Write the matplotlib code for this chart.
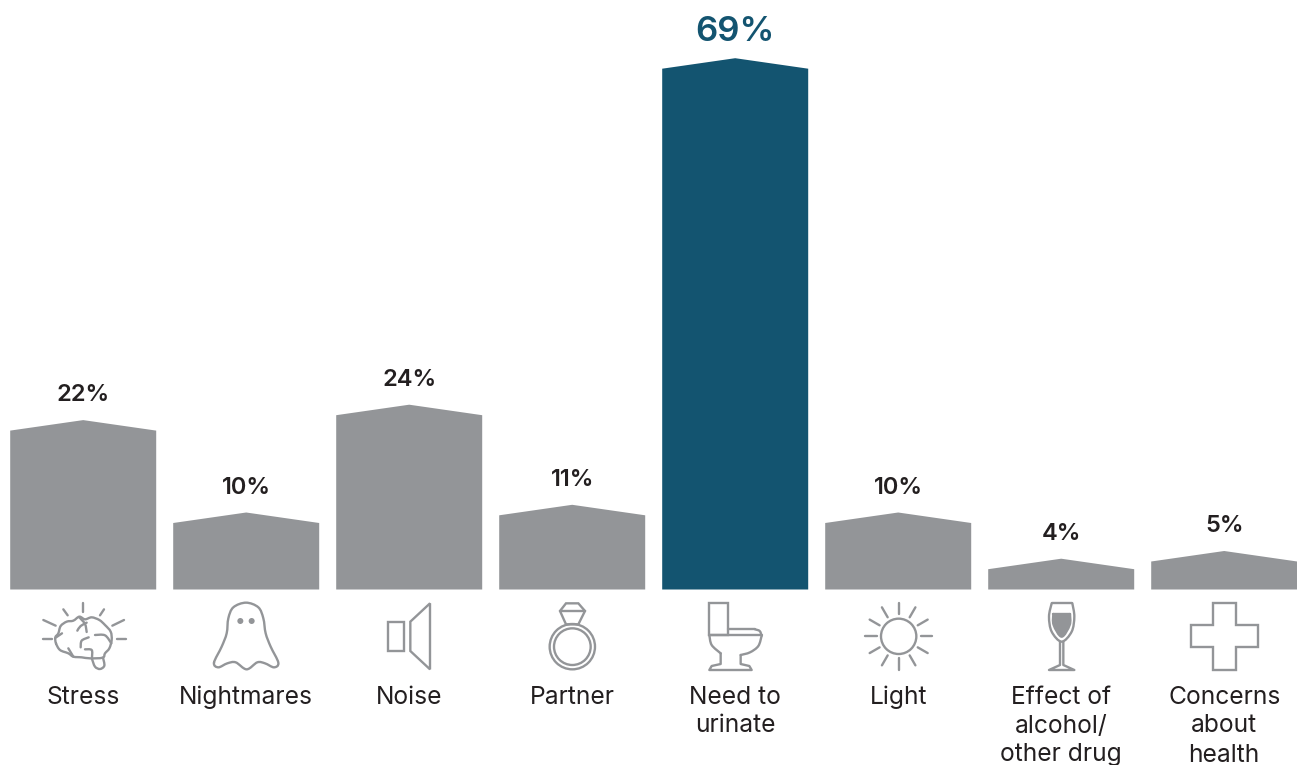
import numpy as np
import matplotlib
matplotlib.use("Agg")
import matplotlib.pyplot as plt
from matplotlib.path import Path
from matplotlib.patches import PathPatch, Polygon, Circle

plt.rcParams["font.family"] = ["Inter", "DejaVu Sans"]

categories = ["Stress", "Nightmares", "Noise", "Partner", "Need to\nurinate",
              "Light", "Effect of\nalcohol/\nother drug", "Concerns\nabout\nhealth"]
values = [22, 10, 24, 11, 69, 10, 4, 5]
highlight = "Need to\nurinate"

GREY = "#939598"
TEAL = "#135470"
INK = "#231f20"

W, H = 1297, 765
BASE_PX = 589.5
PX_PER_PCT = 7.7
STEP_PX = 163.0
FIRST_PX = 83.2
BAR_W = 146 / STEP_PX
ROOF = 10.5 / PX_PER_PCT

fig = plt.figure(figsize=(W / 100, H / 100), dpi=100, facecolor="white")

# Bars live on category / percent scales that span the whole canvas.
ax = fig.add_axes([0, 0, 1, 1])
ax.set_xlim(-FIRST_PX / STEP_PX, (W - FIRST_PX) / STEP_PX)
ax.set_ylim(-(H - BASE_PX) / PX_PER_PCT, BASE_PX / PX_PER_PCT)
ax.axis("off")

# Pixel-style overlay for the pictograms.
ic = fig.add_axes([0, 0, 1, 1], facecolor="none")
ic.set_xlim(0, W)
ic.set_ylim(H, 0)
ic.axis("off")

for i, (cat, val) in enumerate(zip(categories, values)):
    hot = cat == highlight
    col = TEAL if hot else GREY
    l, r = i - BAR_W / 2, i + BAR_W / 2
    ax.add_patch(Polygon([(l, 0), (l, val - ROOF), (i, val), (r, val - ROOF), (r, 0)],
                         closed=True, fc=col, ec="none"))
    ax.annotate(f"{val}%", (i, val), xytext=(0, 26.5 if hot else 25),
                textcoords="offset pixels", ha="center", va="center",
                color=TEAL if hot else INK, fontsize=25 if hot else 17,
                fontweight="semibold", annotation_clip=False)
    for j, line_text in enumerate(cat.split("\n")):
        ax.annotate(line_text, (i, 0), xytext=(0, -(107.5 + 29 * j)),
                    textcoords="offset pixels", ha="center", va="center",
                    color=INK, fontsize=17.7, fontweight="normal", annotation_clip=False)

LW = 1.7
STYLE = dict(color=GREY, lw=LW, solid_capstyle="round", solid_joinstyle="round")


def zoomed(pts, ox, oy):
    # Icon outlines are sketched on a 3x grid with a local origin.
    a = np.asarray(pts, float)
    return a[:, 0] / 3 + ox, a[:, 1] / 3 + oy


def line(pts, ox, oy):
    x, y = zoomed(pts, ox, oy)
    ic.plot(x, y, **STYLE)


def smooth(pts, ox, oy, closed=False, fc="none"):
    # Catmull-Rom spline through the sketched knots.
    x, y = zoomed(pts, ox, oy)
    p = np.column_stack([x, y])
    n = len(p)
    verts, codes = [p[0]], [Path.MOVETO]
    segs = n if closed else n - 1
    for k in range(segs):
        if closed:
            p0, p1, p2, p3 = p[(k - 1) % n], p[k], p[(k + 1) % n], p[(k + 2) % n]
        else:
            p0, p1, p2, p3 = p[max(k - 1, 0)], p[k], p[k + 1], p[min(k + 2, n - 1)]
        verts += [p1 + (p2 - p0) / 6, p2 - (p3 - p1) / 6, p2]
        codes += [Path.CURVE4] * 3
    ic.add_patch(PathPatch(Path(verts, codes), fc=fc, ec=GREY, lw=LW, joinstyle="round", capstyle="round"))


def poly(pts, ox, oy, fc="none"):
    x, y = zoomed(pts, ox, oy)
    ic.add_patch(Polygon(np.column_stack([x, y]), closed=True, fc=fc, ec=GREY, lw=LW, joinstyle="miter"))


# Stress: brain with rays
BX, BY = 40, 600
for a in [[(130, 8), (130, 35)], [(70, 28), (83, 46)], [(192, 28), (180, 46)],
          [(10, 60), (47, 77)], [(252, 60), (217, 77)],
          [(8, 118), (35, 118)], [(230, 118), (257, 118)]]:
    line(a, BX, BY)
smooth([(48, 130), (46, 112), (55, 100), (62, 78), (80, 65), (100, 62), (118, 50),
        (135, 58), (155, 52), (178, 60), (195, 75), (212, 95), (215, 120), (208, 145),
        (195, 160), (188, 173), (150, 175), (125, 172), (100, 170), (85, 160), (60, 150)],
       BX, BY, closed=True)
smooth([(156, 177), (165, 200), (180, 207), (193, 197), (189, 173)], BX, BY)
smooth([(140, 68), (122, 78), (112, 92)], BX, BY)
smooth([(118, 52), (135, 72), (140, 96)], BX, BY)
smooth([(122, 142), (125, 122), (146, 112)], BX, BY)
smooth([(214, 130), (195, 106), (165, 105)], BX, BY)
smooth([(85, 145), (100, 170)], BX, BY)
smooth([(47, 113), (66, 100)], BX, BY)
smooth([(156, 172), (155, 150), (135, 148)], BX, BY)

# Nightmares: ghost
smooth([(642, 218), (665, 170), (680, 130), (685, 85), (700, 52), (738, 38), (775, 52),
        (790, 85), (797, 130), (812, 170), (835, 218), (822, 232), (795, 220), (772, 217),
        (740, 238), (707, 217), (682, 220), (655, 232)], 0, 590, closed=True)
for ex in (721, 755):
    ic.add_patch(Circle((ex / 3, 590 + 93 / 3), 3, fc=GREY, ec="none"))

# Noise: speaker
poly([(175, 95), (222, 95), (222, 183), (175, 183)], 330, 590)
poly([(241, 95), (300, 40), (300, 238), (241, 183)], 330, 590)

# Partner: ring with a diamond
for rad in (68, 55):
    ic.add_patch(Circle((330 + 727 / 3, 590 + 170 / 3), rad / 3, fc="none", ec=GREY, lw=LW))
poly([(708, 40), (745, 40), (765, 63), (745, 103), (708, 103), (690, 63)], 330, 590)
line([(690, 63), (765, 63)], 330, 590)

# Need to urinate: toilet
TX, TY = 700, 600
poly([(28, 10), (85, 10), (85, 105), (28, 105)], TX, TY)
line([(85, 88), (165, 88)], TX, TY)
smooth([(165, 88), (179, 93), (185, 107)], TX, TY)
line([(28, 105), (185, 105)], TX, TY)
smooth([(185, 107), (175, 138), (150, 157), (122, 165)], TX, TY)
smooth([(28, 105), (35, 135), (62, 160)], TX, TY)
line([(62, 160), (62, 192), (35, 198), (28, 210), (155, 210), (148, 198), (122, 192), (122, 165)], TX, TY)

# Light: sun
cx, cy = 660 + 716 / 3, 590 + 139 / 3
ic.add_patch(Circle((cx, cy), 53 / 3, fc="none", ec=GREY, lw=LW))
for deg in range(0, 360, 30):
    t = np.radians(deg)
    ic.plot([cx + 22 * np.cos(t), cx + 33.5 * np.cos(t)],
            [cy + 22 * np.sin(t), cy + 33.5 * np.sin(t)], **STYLE)

# Effect of alcohol: wine glass
smooth([(215, 40), (207, 80), (215, 125), (245, 155), (275, 125), (283, 80), (277, 40)], 980, 590)
line([(215, 40), (277, 40)], 980, 590)
smooth([(220, 72), (221, 105), (245, 140), (269, 105), (270, 72)], 980, 590, fc=GREY)
line([(220, 72), (270, 72)], 980, 590)
line([(240, 155), (240, 225), (207, 240), (283, 240), (250, 225), (250, 155)], 980, 590)

# Concerns about health: cross
poly([(700, 40), (768, 40), (768, 105), (835, 105), (835, 172), (768, 172), (768, 240),
      (700, 240), (700, 172), (632, 172), (632, 105), (700, 105)], 980, 590)

fig.savefig("out.png", dpi=100, facecolor="white")
